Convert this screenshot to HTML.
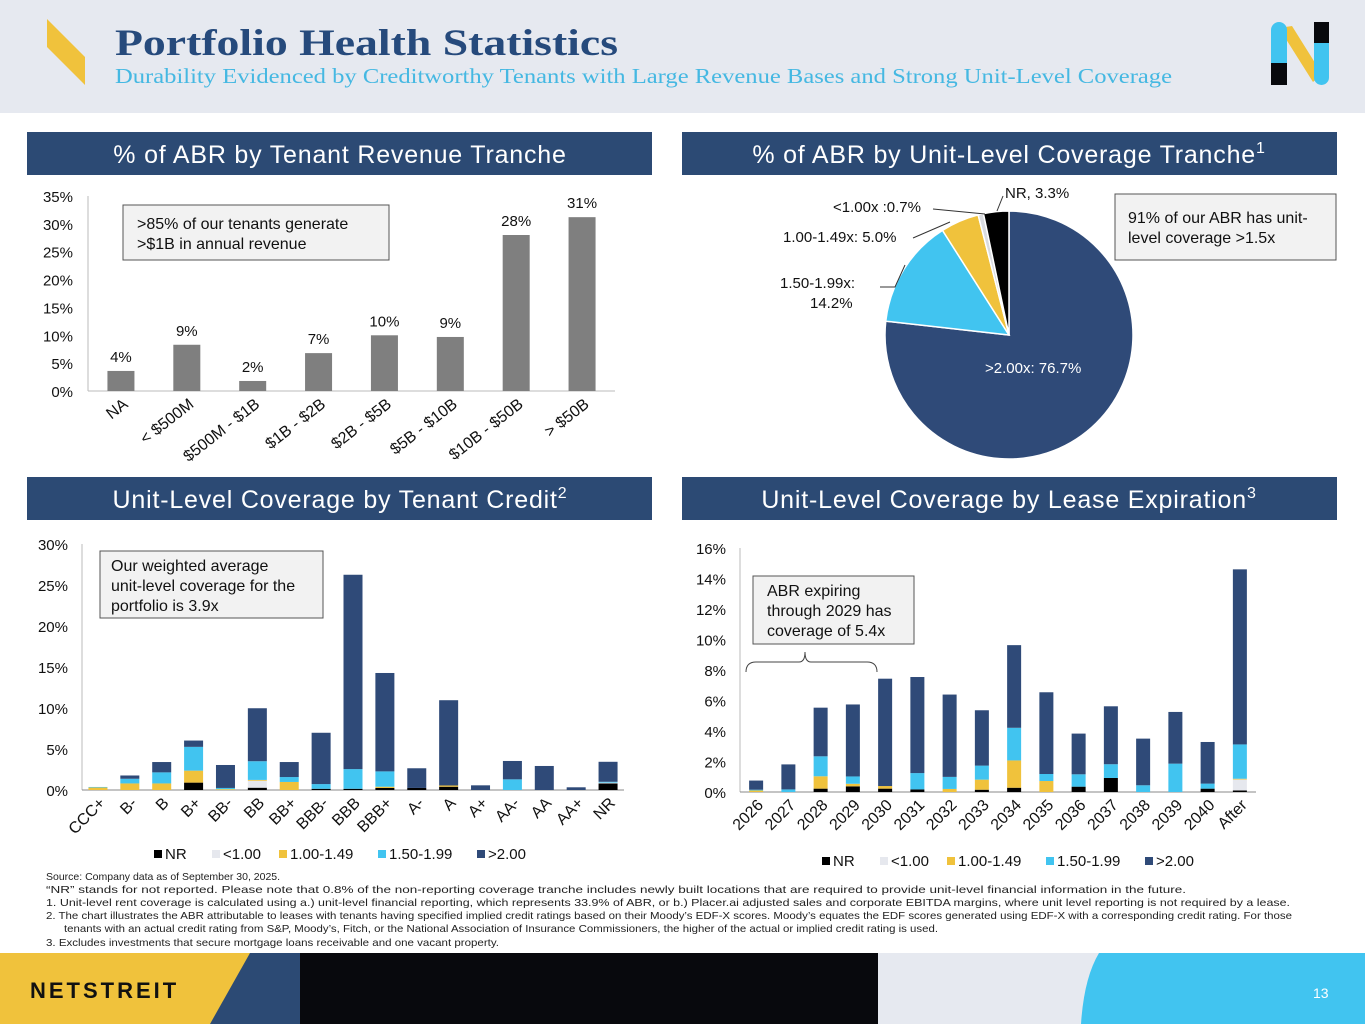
<!DOCTYPE html>
<html><head><meta charset="utf-8"><style>
body{margin:0;width:1365px;height:1024px;overflow:hidden;background:#fff;font-family:"Liberation Sans",sans-serif}
svg text{font-family:"Liberation Sans",sans-serif}
</style></head><body>
<svg id="s" width="1365" height="1024" xmlns="http://www.w3.org/2000/svg">
<rect x="0" y="0" width="1365" height="113" fill="#e6e9f0"/>
<polygon points="47,19 85,57 85,85 47,47" fill="#f0c23c"/>
<text x="115" y="55" style="font-family:'Liberation Serif',serif" font-weight="bold" font-size="37" fill="#264a7c" textLength="503" lengthAdjust="spacingAndGlyphs">Portfolio Health Statistics</text>
<text x="115" y="83" style="font-family:'Liberation Serif',serif" font-size="21" fill="#45b8e2" textLength="1057" lengthAdjust="spacingAndGlyphs">Durability Evidenced by Creditworthy Tenants with Large Revenue Bases and Strong Unit-Level Coverage</text>
<g>
<polygon points="1279,28 1292,26 1322,74 1313,82" fill="#f0c23c"/>
<rect x="1271" y="22" width="16" height="50" rx="8" fill="#41c4f0"/>
<rect x="1271" y="63" width="16" height="22" fill="#08090d"/>
<rect x="1314" y="35" width="15" height="50" rx="7.5" fill="#41c4f0"/>
<rect x="1314" y="22" width="15" height="21" fill="#08090d"/>
</g>
<g>
<rect x="27" y="132" width="625" height="43" fill="#2c4a74"/>
<text x="340" y="163" text-anchor="middle" font-size="25" fill="#fff" letter-spacing="0.8">% of ABR by Tenant Revenue Tranche</text>
<rect x="682" y="132" width="655" height="43" fill="#2c4a74"/>
<text x="1009" y="163" text-anchor="middle" font-size="25" fill="#fff" letter-spacing="0.8">% of ABR by Unit-Level Coverage Tranche<tspan font-size="16" dy="-10">1</tspan></text>
<rect x="27" y="477" width="625" height="43" fill="#2c4a74"/>
<text x="340" y="508" text-anchor="middle" font-size="25" fill="#fff" letter-spacing="0.8">Unit-Level Coverage by Tenant Credit<tspan font-size="16" dy="-10">2</tspan></text>
<rect x="682" y="477" width="655" height="43" fill="#2c4a74"/>
<text x="1009" y="508" text-anchor="middle" font-size="25" fill="#fff" letter-spacing="0.8">Unit-Level Coverage by Lease Expiration<tspan font-size="16" dy="-10">3</tspan></text>
</g>
<g id="c1"></g>
<rect x="123" y="205" width="266" height="55" fill="#f2f2f2" stroke="#555"/>
<text x="137" y="229" font-size="16" fill="#111">&gt;85% of our tenants generate<tspan x="137" dy="20">&gt;$1B in annual revenue</tspan></text>
<g id="c2"></g>
<rect x="1115" y="194" width="221" height="66" fill="#f2f2f2" stroke="#555"/>
<text x="1128" y="223" font-size="16" fill="#111">91% of our ABR has unit-<tspan x="1128" dy="20">level coverage &gt;1.5x</tspan></text>
<g id="c3"></g>
<rect x="100" y="551" width="223" height="67" fill="#f2f2f2" stroke="#555"/>
<text x="111" y="571" font-size="16" fill="#111">Our weighted average<tspan x="111" dy="20">unit-level coverage for the</tspan><tspan x="111" dy="20">portfolio is 3.9x</tspan></text>
<g id="c4"></g>
<rect x="753" y="576" width="161" height="68" fill="#f2f2f2" stroke="#555"/>
<text x="767" y="596" font-size="16" fill="#111">ABR expiring<tspan x="767" dy="20">through 2029 has</tspan><tspan x="767" dy="20">coverage of 5.4x</tspan></text>
<path d="M746,672 Q746,662 756,662 L799,662 Q805,662 805,652 Q805,662 811,662 L867,662 Q877,662 877,672" fill="none" stroke="#444" stroke-width="1"/>
<g font-size="10.5" fill="#222">
<text x="46" y="880">Source: Company data as of September 30, 2025.</text>
<text x="46" y="893" textLength="1140" lengthAdjust="spacingAndGlyphs">“NR” stands for not reported. Please note that 0.8% of the non-reporting coverage tranche includes newly built locations that are required to provide unit-level financial information in the future.</text>
<text x="46" y="906" textLength="1244" lengthAdjust="spacingAndGlyphs">1.   Unit-level rent coverage is calculated using a.) unit-level financial reporting, which represents 33.9% of ABR, or b.) Placer.ai adjusted sales and corporate EBITDA margins, where unit level reporting is not required by a lease.</text>
<text x="46" y="919" textLength="1246" lengthAdjust="spacingAndGlyphs">2.   The chart illustrates the ABR attributable to leases with tenants having specified implied credit ratings based on their Moody’s EDF-X scores. Moody’s equates the EDF scores generated using EDF-X with a corresponding credit rating. For those</text>
<text x="64" y="932" textLength="874" lengthAdjust="spacingAndGlyphs">tenants with an actual credit rating from S&amp;P, Moody’s, Fitch, or the National Association of Insurance Commissioners, the higher of the actual or implied credit rating is used.</text>
<text x="46" y="946" textLength="453" lengthAdjust="spacingAndGlyphs">3.   Excludes investments that secure mortgage loans receivable and one vacant property.</text>
</g>
<g>
<rect x="0" y="953" width="1365" height="71" fill="#08090d"/>
<polygon points="0,953 300,953 300,1024 0,1024" fill="#2c4a74"/>
<polygon points="0,953 250,953 210,1024 0,1024" fill="#f0c23c"/>
<rect x="878" y="953" width="487" height="71" fill="#e6e9f0"/>
<path d="M1099,953 L1365,953 L1365,1024 L1081,1024 Q1084,978 1099,953 Z" fill="#41c4f0"/>
<text x="30" y="998" font-size="22" font-weight="bold" letter-spacing="3" fill="#111">NETSTREIT</text>
<text x="1313" y="998" font-size="14" fill="#fff">13</text>
</g>
</svg>
<script>
const NS="http://www.w3.org/2000/svg";
function mk(p,t,a,txt){const e=document.createElementNS(NS,t);for(const k in a)e.setAttribute(k,a[k]);if(txt!==undefined)e.textContent=txt;p.appendChild(e);return e;}

// Chart 1 data
const revCats=["NA","< $500M","$500M - $1B","$1B - $2B","$2B - $5B","$5B - $10B","$10B - $50B","> $50B"];
const revVals=[3.6,8.3,1.8,6.8,10.0,9.7,28.0,31.2];
const revLabels=["4%","9%","2%","7%","10%","9%","28%","31%"];
const revTicks=[0,5,10,15,20,25,30,35];

// Chart 2 data
const pieCats=[">2.00x","1.50-1.99x","1.00-1.49x","<1.00x","NR"];
const pieVals=[76.7,14.2,5.0,0.7,3.3];

// Chart 3 data
const credCats=["CCC+","B-","B","B+","BB-","BB","BB+","BBB-","BBB","BBB+","A-","A","A+","AA-","AA","AA+","NR"];
const credNR=[0,0,0,0.9,0,0.28,0,0.15,0.15,0.25,0.25,0.4,0,0,0,0,0.8];
const credLt1=[0,0,0,0,0,0.85,0,0,0,0,0,0,0,0,0,0,0.1];
const credC100=[0.3,0.8,0.8,1.46,0.1,0.1,0.98,0,0,0.15,0,0.15,0,0,0,0,0];
const credC150=[0.07,0.57,1.35,2.9,0.15,2.28,0.6,0.57,2.4,1.87,0,0,0,1.3,0,0,0.1];
const credC200=[0,0.4,1.26,0.77,2.8,6.46,1.83,6.26,23.7,12.0,2.4,10.4,0.57,2.24,2.93,0.33,2.44];
const credTicks=[0,5,10,15,20,25,30];

// Chart 4 data
const expCats=["2026","2027","2028","2029","2030","2031","2032","2033","2034","2035","2036","2037","2038","2039","2040","After"];
const expNR=[0,0,0.22,0.37,0.22,0.17,0,0.15,0.28,0,0.35,0.92,0,0,0.22,0.1];
const expLt1=[0,0,0,0,0,0,0,0,0,0,0,0,0,0,0,0.72];
const expC100=[0.1,0,0.81,0.17,0.17,0,0.2,0.66,1.79,0.72,0,0,0,0,0,0.05];
const expC150=[0.05,0.17,1.31,0.48,0,1.07,0.79,0.92,2.14,0.46,0.81,0.9,0.44,1.86,0.33,2.25];
const expC200=[0.6,1.64,3.19,4.72,7.04,6.3,5.4,3.63,5.42,5.36,2.67,3.8,3.06,3.39,2.73,11.48];
const expTicks=[0,2,4,6,8,10,12,14,16];

const COLORS=["#000000","#e6e8ee","#f0c23c","#41c4f0","#2f4a78"];
const SER=["NR","<1.00","1.00-1.49","1.50-1.99",">2.00"];

// Chart 1
(function(){
 const g=document.getElementById('c1');
 const x0=88,x1=615,y0=391,y1=196,max=35;
 const y=v=>y0-(v/max)*(y0-y1);
 const step=(x1-x0)/revCats.length;
 const cx=i=>x0+step*(i+0.5);
 revTicks.forEach(t=>{const e=mk(g,'text',{x:73,y:y(t)+6,'text-anchor':'end','font-size':15,fill:'#111'},t+'%');
 
 });
 mk(g,'line',{x1:x0,y1:y1,x2:x0,y2:y0,stroke:'#bbb'});
 mk(g,'line',{x1:x0,y1:y0,x2:x1,y2:y0,stroke:'#bbb'});
 revVals.forEach((v,i)=>{
  const r=mk(g,'rect',{x:cx(i)-13.5,y:y(v),width:27,height:y0-y(v),fill:'#7f7f7f'});
  
  
  const l=mk(g,'text',{x:cx(i),y:y(v)-9,'text-anchor':'middle','font-size':15,fill:'#111'},revLabels[i]);
  
  
  const xl=mk(g,'text',{x:cx(i)+8,y:y0+15,'text-anchor':'end','font-size':16,fill:'#111',transform:`rotate(-38 ${cx(i)+8} ${y0+15})`},revCats[i]);
  
  
 });
})();

// Chart 2 pie
(function(){
 const g=document.getElementById('c2');
 const cx=1009,cy=335,r=124;
 const cols=["#2f4a78","#41c4f0","#f0c23c","#d9dbe0","#000000"];
 const tot=pieVals.reduce((a,b)=>a+b,0);
 let a=0;
 const pt=(ang,rr)=>[cx+rr*Math.sin(ang),cy-rr*Math.cos(ang)];
 pieVals.forEach((v,i)=>{
  const a2=a+v/tot*2*Math.PI;
  const p1=pt(a,r),p2=pt(a2,r);
  const large=(a2-a)>Math.PI?1:0;
  const p=mk(g,'path',{d:`M${cx},${cy} L${p1[0]},${p1[1]} A${r},${r} 0 ${large} 1 ${p2[0]},${p2[1]} Z`,fill:cols[i],stroke:'#fff','stroke-width':1.5});
  
  
  a=a2;
 });
 const L=[["NR, 3.3%",1005,198,'start','#111'],["<1.00x :0.7%",833,212,'start','#111'],["1.00-1.49x: 5.0%",783,242,'start','#111'],["1.50-1.99x:",780,288,'start','#111'],["14.2%",810,308,'start','#111'],[">2.00x: 76.7%",985,373,'start','#fff']];
 L.forEach(l=>{const t=mk(g,'text',{x:l[1],y:l[2],'text-anchor':l[3],'font-size':15,fill:l[4]},l[0]);
  
  });
 mk(g,'path',{d:'M997,211 L1003,196',stroke:'#333',fill:'none'});
 mk(g,'path',{d:'M933,209 L985,214',stroke:'#333',fill:'none'});
 mk(g,'path',{d:'M913,238 L950,222',stroke:'#333',fill:'none'});
 mk(g,'path',{d:'M880,287 L895,287 L905,265',stroke:'#333',fill:'none'});
})();

function stacked(id,cats,series,ticks,o){
 const g=document.getElementById(id);
 const max=ticks[ticks.length-1];
 const y=v=>o.y0-(v/max)*(o.y0-o.y1);
 const step=(o.x1-o.x0)/cats.length;
 const cx=i=>o.x0+step*(i+0.5);
 ticks.forEach(t=>{const e=mk(g,'text',{x:o.tx,y:y(t)+6,'text-anchor':'end','font-size':15,fill:'#111'},t+'%');
  
  });
 mk(g,'line',{x1:o.x0,y1:o.y1,x2:o.x0,y2:o.y0,stroke:'#bbb'});
 mk(g,'line',{x1:o.x0,y1:o.y0,x2:o.x1,y2:o.y0,stroke:'#888'});
 cats.forEach((c,i)=>{
  let acc=0;
  series.forEach((s,k)=>{
   const v=s[i]; if(v<=0)return;
   const r=mk(g,'rect',{x:cx(i)-o.bw/2,y:y(acc+v),width:o.bw,height:y(acc)-y(acc+v),fill:COLORS[k]});
   
   
   acc+=v;
  });
  const tx=cx(i)+8,ty=o.y0+14;
  const xl=mk(g,'text',{x:tx,y:ty,'text-anchor':'end','font-size':16,fill:'#111',transform:`rotate(-45 ${tx} ${ty})`},c);
  
  
 });
 let lx=o.lx;
 SER.forEach((s,k)=>{
  const r=mk(g,'rect',{x:lx,y:o.ly-9,width:8,height:8,fill:COLORS[k]});
  
  
  const t=mk(g,'text',{x:lx+11,y:o.ly,'font-size':15,fill:'#111'},s);
  
  
  lx+=[39,48,80,80,0][k]+11+8;
 });
}
stacked('c3',credCats,[credNR,credLt1,credC100,credC150,credC200],credTicks,{x0:82,x1:624,y0:790,y1:544,tx:68,bw:19,lx:154,ly:859});
stacked('c4',expCats,[expNR,expLt1,expC100,expC150,expC200],expTicks,{x0:740,x1:1256,y0:792,y1:548,tx:726,bw:14,lx:822,ly:866});
</script>
</body></html>
